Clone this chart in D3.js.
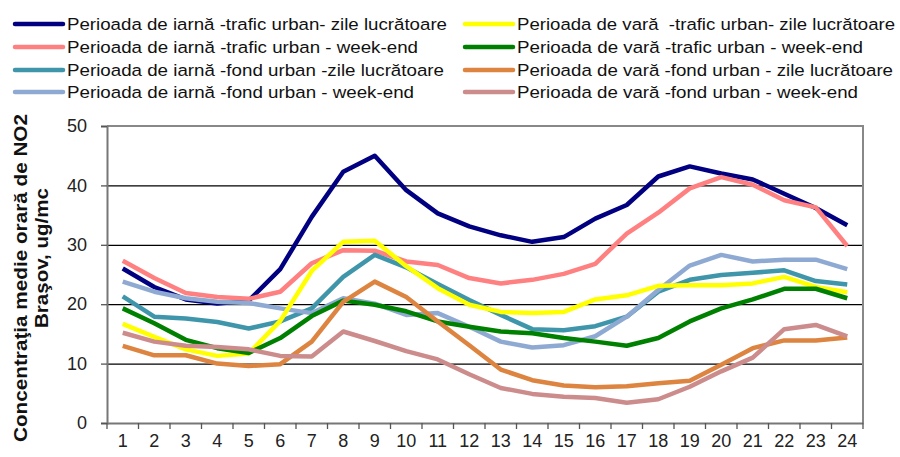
<!DOCTYPE html>
<html>
<head>
<meta charset="utf-8">
<script src="https://cdn.jsdelivr.net/npm/d3@7"></script>
<style>
  body { margin: 0; background: #fff; }
  svg { display: block; font-family: Arial, 'Liberation Sans', sans-serif; }
</style>
</head>
<body>
<div id="chart"></div>
<script>
// ore 1..24
const hours = d3.range(1, 25);
const yTicks = [0, 10, 20, 30, 40, 50];

const seriesNames = [
    'Perioada de iarnă -trafic urban- zile lucrătoare',
    'Perioada de iarnă -trafic urban - week-end',
    'Perioada de iarnă -fond urban -zile lucrătoare',
    'Perioada de iarnă -fond urban - week-end',
    'Perioada de vară  -trafic urban- zile lucrătoare',
    'Perioada de vară -trafic urban - week-end',
    'Perioada de vară -fond urban - zile lucrătoare',
    'Perioada de vară -fond urban - week-end'
];
const seriesColors = ['#000080', '#ff8080', '#3f96aa', '#8faad2', '#ffff00', '#008000', '#dd8440', '#cc8c8c'];

const iarnaTraficLucru = [26.0, 22.9, 20.8, 20.1, 20.6, 25.9, 34.7, 42.3, 45.0, 39.2, 35.3, 33.1, 31.6, 30.5, 31.3, 34.4, 36.7, 41.5, 43.2, 42.0, 41.0, 38.6, 36.2, 33.3];
const iarnaTraficWeekend = [27.3, 24.4, 21.9, 21.2, 20.9, 22.1, 26.9, 29.1, 29.0, 27.2, 26.6, 24.4, 23.5, 24.1, 25.1, 26.8, 31.9, 35.4, 39.5, 41.4, 40.1, 37.5, 36.3, 29.8];
const iarnaFondLucru = [21.3, 17.9, 17.6, 17.0, 15.9, 17.1, 19.3, 24.6, 28.3, 26.2, 23.4, 20.7, 18.2, 15.8, 15.6, 16.3, 17.9, 22.1, 24.1, 24.9, 25.3, 25.7, 23.9, 23.3];
const iarnaFondWeekend = [23.8, 22.1, 21.0, 20.4, 20.2, 19.3, 18.5, 21.0, 20.1, 18.2, 18.5, 16.2, 13.7, 12.7, 13.1, 14.6, 17.9, 22.4, 26.5, 28.3, 27.2, 27.5, 27.5, 25.9];
const varaTraficLucru = [16.7, 14.5, 12.4, 11.3, 11.7, 17.2, 25.6, 30.5, 30.7, 26.4, 22.7, 19.9, 18.7, 18.5, 18.7, 20.8, 21.5, 23.1, 23.2, 23.2, 23.5, 24.6, 22.9, 22.0];
const varaTraficWeekend = [19.3, 16.8, 14.0, 12.6, 11.8, 14.3, 18.0, 20.6, 19.9, 18.8, 17.1, 16.2, 15.4, 15.1, 14.3, 13.7, 13.0, 14.3, 17.1, 19.3, 20.8, 22.6, 22.6, 21.0];
const varaFondLucru = [13.0, 11.4, 11.4, 10.0, 9.6, 9.9, 13.7, 20.4, 23.8, 21.2, 17.1, 13.1, 9.0, 7.2, 6.3, 6.0, 6.2, 6.7, 7.1, 9.8, 12.6, 13.9, 13.9, 14.4];
const varaFondWeekend = [15.2, 13.7, 13.0, 12.8, 12.4, 11.3, 11.2, 15.4, 13.8, 12.1, 10.7, 8.2, 5.9, 4.9, 4.4, 4.2, 3.4, 4.0, 6.1, 8.7, 11.0, 15.8, 16.5, 14.6];

const seriesValues = [iarnaTraficLucru, iarnaTraficWeekend, iarnaFondLucru, iarnaFondWeekend,
    varaTraficLucru, varaTraficWeekend, varaFondLucru, varaFondWeekend];

const width = 900;
const height = 457;
const margin = {top: 126, right: 37, bottom: 34, left: 107};

// latimea textelor din legenda (ca in original)
const legendTextLen = [380, 351, 377, 347, 378, 346, 376, 341];

const svg = d3.select('#chart').append('svg')
    .attr('width', width)
    .attr('height', height);

const x = d3.scaleBand()
    .domain(hours)
    .range([margin.left, width - margin.right]);

const y = d3.scaleLinear()
    .domain([0, 50])
    .range([height - margin.bottom, margin.top]);

// linii de grilă
svg.append('g')
    .attr('transform', `translate(${margin.left},0)`)
    .call(d3.axisLeft(y).tickValues([10, 20, 30, 40]).tickSize(-(width - margin.left - margin.right)).tickFormat(''))
    .call(g => g.select('.domain').remove())
    .selectAll('line')
    .attr('stroke', '#000')
    .attr('stroke-width', 1.3);

// chenar sus / dreapta
svg.append('path')
    .attr('d', `M${margin.left},${margin.top}H${width - margin.right}V${height - margin.bottom}`)
    .attr('fill', 'none')
    .attr('stroke', '#888')
    .attr('stroke-width', 2);

// axa Y
const yAxis = svg.append('g')
    .attr('transform', `translate(${margin.left},0)`)
    .call(d3.axisLeft(y).tickValues(yTicks).tickSize(6).tickPadding(14));
yAxis.select('.domain').attr('stroke', '#777').attr('stroke-width', 2);
yAxis.selectAll('line').attr('stroke', '#555').attr('stroke-width', 1.3);
yAxis.selectAll('text')
    .attr('font-size', '18px')
    .attr('font-family', 'Arial, Liberation Sans, sans-serif')
    .attr('fill', '#222');

// axa X, cu marcaje intre categorii
const xAxis = svg.append('g')
    .attr('transform', `translate(0,${height - margin.bottom})`)
    .call(d3.axisBottom(x).tickSize(0).tickPadding(11));
xAxis.select('.domain').attr('stroke', '#777').attr('stroke-width', 2);
xAxis.selectAll('text')
    .attr('font-size', '18px')
    .attr('font-family', 'Arial, Liberation Sans, sans-serif')
    .attr('fill', '#222');

const boundaries = hours.map(h => x(h)).concat([x(24) + x.bandwidth()]);
svg.append('g')
    .selectAll('line')
    .data(boundaries)
    .enter()
    .append('line')
    .attr('x1', d => d)
    .attr('x2', d => d)
    .attr('y1', height - margin.bottom)
    .attr('y2', height - margin.bottom + 6)
    .attr('stroke', '#555')
    .attr('stroke-width', 1.3);

// liniile seriilor
const line = d3.line()
    .x((d, i) => x(hours[i]) + x.bandwidth() / 2)
    .y(d => y(d));

svg.append('g')
    .selectAll('path')
    .data(seriesValues)
    .enter()
    .append('path')
    .attr('d', d => line(d))
    .attr('fill', 'none')
    .attr('stroke', (d, i) => seriesColors[i])
    .attr('stroke-width', 4.5)
    .attr('stroke-linejoin', 'round');

// titlul axei Y
svg.append('text')
    .attr('transform', 'translate(27,278) rotate(-90)')
    .attr('text-anchor', 'middle')
    .attr('font-size', '18px')
    .attr('font-weight', 'bold')
    .attr('textLength', 328)
    .attr('lengthAdjust', 'spacingAndGlyphs')
    .attr('fill', '#111')
    .text('Concentraţia medie orară de NO2');

svg.append('text')
    .attr('transform', 'translate(48,258) rotate(-90)')
    .attr('text-anchor', 'middle')
    .attr('font-size', '18px')
    .attr('font-weight', 'bold')
    .attr('textLength', 140)
    .attr('lengthAdjust', 'spacingAndGlyphs')
    .attr('fill', '#111')
    .text('Braşov, ug/mc');

// legenda
const legendRows = [24, 47, 70, 92];
const legend = svg.append('g')
    .selectAll('g')
    .data(seriesNames)
    .enter()
    .append('g')
    .attr('transform', (d, i) => `translate(${i < 4 ? 15 : 465},${legendRows[i % 4]})`);

legend.append('line')
    .attr('x1', 0)
    .attr('x2', 48)
    .attr('stroke', (d, i) => seriesColors[i])
    .attr('stroke-width', 4.5)
    .attr('stroke-linecap', 'round');

legend.append('text')
    .attr('x', 52)
    .attr('y', 6)
    .attr('font-size', '17.2px')
    .attr('textLength', (d, i) => legendTextLen[i])
    .attr('lengthAdjust', 'spacingAndGlyphs')
    .attr('fill', '#111')
    .style('white-space', 'pre')
    .text(d => d);
</script>
</body>
</html>
